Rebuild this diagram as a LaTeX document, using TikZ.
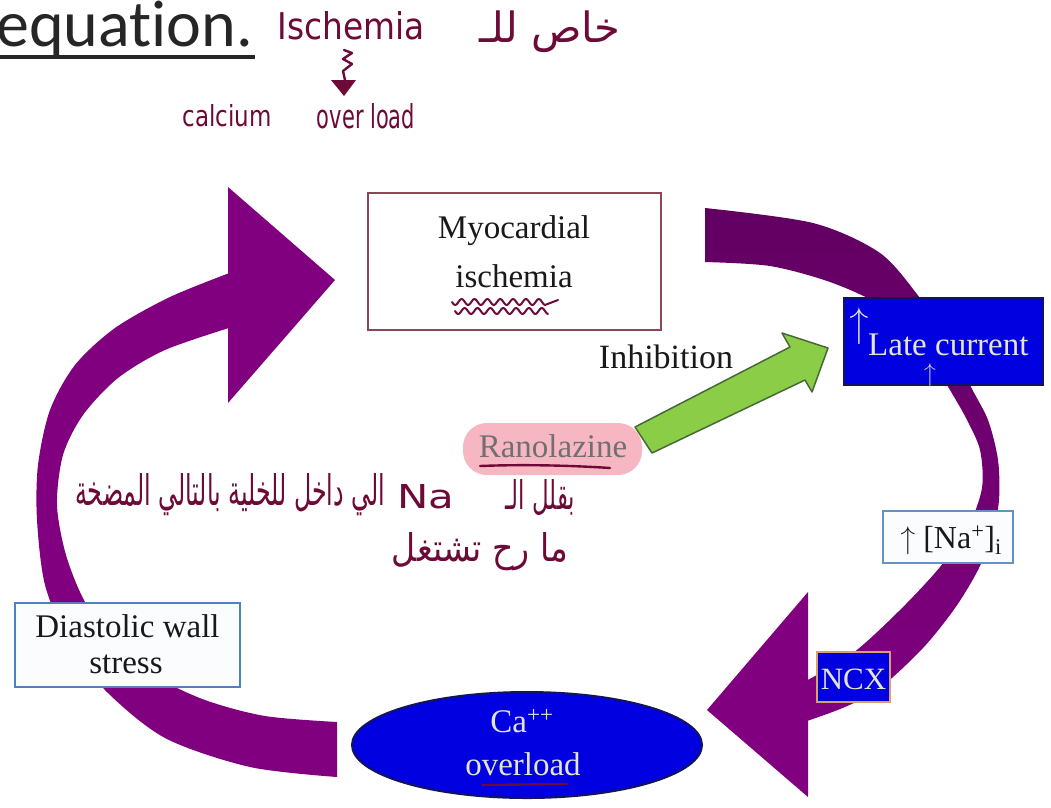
\documentclass[tikz,border=0pt]{standalone}
\usepackage{fontspec}
\usepackage{graphicx}
\usetikzlibrary{shapes.geometric}
\TeXXeTstate=1
\setmainfont{Liberation Serif}
\newfontfamily\lmr{Latin Modern Roman}
\newfontfamily\arabicfont[Script=Arabic]{DejaVu Sans}
\newfontfamily\hwfont{DejaVu Sans}
\newfontfamily\carlito[Ligatures=NoCommon]{Carlito}
\definecolor{purp}{RGB}{128,0,128}
\definecolor{purpdark}{RGB}{98,0,98}
\definecolor{hwc}{RGB}{110,10,55}
\definecolor{blueF}{RGB}{0,0,225}
\definecolor{cream}{RGB}{228,228,210}
\definecolor{greenF}{RGB}{140,205,72}
\definecolor{greenE}{RGB}{70,105,55}
\definecolor{pinkF}{RGB}{246,183,195}
\definecolor{ranoT}{RGB}{112,112,112}
\definecolor{myoE}{RGB}{140,70,85}
\definecolor{diaE}{RGB}{80,128,190}
\definecolor{naE}{RGB}{100,145,195}
\definecolor{ncxE}{RGB}{215,160,110}
\definecolor{ellE}{RGB}{20,20,90}
\definecolor{titleC}{RGB}{38,38,38}
\definecolor{boxF}{RGB}{250,252,254}
\definecolor{txtC}{RGB}{25,25,25}
\begin{document}
\begin{tikzpicture}[x=1pt,y=-1pt,
  txt/.style={font=\fontsize{33}{39}\selectfont, inner sep=0pt, text=txtC},
  hw/.style={text=hwc, inner sep=0pt, font=\hwfont},
  hwline/.style={draw=hwc, line width=2.4pt, line cap=round, line join=round},
  plainbox/.style={draw, rectangle, inner sep=0pt}]
\fill[white] (0,0) rectangle (1051,807);
\useasboundingbox (0,0) rectangle (1051,807);

% ---- left purple curved arrow
\fill[purp] plot[smooth] coordinates {(232,272) (170,297) (115,328) (75,365) (50,410) (38,465) (37,520) (45,585) (68,640) (105,690) (165,738) (250,767) (337,777)}
  -- plot[smooth] coordinates {(337,722) (265,716) (205,700) (155,676) (115,643) (85,602) (66,555) (57,505) (63,455) (83,415) (118,378) (165,350) (232,327)} -- cycle;
\fill[purp] (228,187) -- (335,280) -- (228,403) -- cycle;

% ---- right purple curved arrow
\shade[top color=purpdark, bottom color=purp] plot[smooth] coordinates {(705,208) (813,223) (880,253) (920,298) (950,340) (970,385) (988,420) (998,460) (999,500) (992,535) (978,570) (955,608) (923,648) (880,688) (845,707) (804,722)}
  -- plot[smooth] coordinates {(804,682) (853,653) (900,610) (940,567) (968,527) (982,488) (980,450) (966,418) (947,385) (920,340) (880,305) (830,282) (770,266) (705,262)} -- cycle;
\fill[purp] (808,592) -- (707,710) -- (808,797) -- cycle;

% ---- nodes
\node[plainbox, draw=myoE, line width=1.8pt, fill=white, minimum width=293pt, minimum height=137pt] (myo) at (514.5,261.5) {};
\node[txt, anchor=base] (myo1) at (514,238) {Myocardial};
\node[txt, anchor=base] (myo2) at (514,287) {ischemia};

\node[draw=ellE, line width=2pt, fill=blueF, ellipse, inner sep=0pt, minimum width=350pt, minimum height=106pt] (ca) at (527,745) {};
\node[txt, anchor=base, text=cream] (ca1) at (522,732) {Ca\textsuperscript{++}};
\node[txt, anchor=base, text=cream] (ca2) at (523,775) {overload};

\node[plainbox, draw=diaE, line width=2pt, fill=boxF, minimum width=225pt, minimum height=84pt] (dia) at (127.5,645) {};
\node[txt, anchor=base] (dia1) at (127.5,637) {Diastolic wall};
\node[txt, anchor=base] (dia2) at (126,673) {stress};

\node[plainbox, draw=ellE, line width=1.5pt, fill=blueF, minimum width=199pt, minimum height=87pt] (late) at (943.5,341.5) {};
\node[txt, anchor=base west, text=cream] (late1) at (868,355) {Late current};
\node[inner sep=0pt, text=cream, font=\lmr\fontsize{42}{42}\selectfont] (up1) at (859,326) {↑};
\node[inner sep=0pt, text=cream, font=\lmr\fontsize{26}{26}\selectfont] (up2) at (930,375) {↑};

\node[plainbox, draw=naE, line width=2pt, fill=boxF, minimum width=130pt, minimum height=52pt] (na) at (948,537) {};
\node[txt, anchor=base, font=\fontsize{32}{36}\selectfont] (na1) at (951,548) {{\lmr ↑} [Na\textsuperscript{+}]\textsubscript{i}};

\node[plainbox, draw=ncxE, line width=1.5pt, fill=blueF, minimum width=73pt, minimum height=50pt] (ncx) at (853.5,677) {};
\node[txt, anchor=base, text=cream, font=\fontsize{31}{36}\selectfont] (ncx1) at (853.5,689) {NCX};

% green inhibition arrow
\filldraw[fill=greenF, draw=greenE, line width=1.5pt, line join=round] (635,427) -- (790,347) -- (782,333) -- (828,348) -- (812,392) -- (805,380) -- (652,453) -- cycle;

\node[plainbox, draw=none, fill=pinkF, rounded corners=24pt, minimum width=179pt, minimum height=52pt] (rano) at (552.5,449) {};
\node[txt, anchor=base, text=ranoT] (rano1) at (553,457) {Ranolazine};
\node[txt, anchor=base, font=\fontsize{34}{39}\selectfont] (inh) at (666,368) {Inhibition};

% ---- title fragment
\node[anchor=base west, inner sep=0pt, text=titleC, font=\carlito\fontsize{66}{70}\selectfont] (title) at (-4,46) {equation.};
\draw[titleC, line width=3.5pt] (0,57) -- (255,57);

% ---- handwritten notes
\node[hw] (isch) at (351,26) {\resizebox{147pt}{28pt}{Ischemia}};
\node[hw] (khas) at (550,32) {\resizebox{141pt}{!}{\arabicfont\beginR خاص للـ\endR}};
\node[hw] (calc) at (227,116) {\resizebox{89pt}{22pt}{calcium}};
\node[hw] (over) at (366,116) {\resizebox{98pt}{25pt}{over load}};
\coordinate (sq) at (344,50);
\draw[hwline] (sq) -- ++(8,3) -- ++(-9,6) -- ++(9,5) -- ++(-9,7) -- ++(2,9);
\fill[hwc] (331,80) -- (356,80) -- (344,96) -- cycle;

\node[hw] (ar1) at (540,497) {\resizebox{70pt}{30pt}{\arabicfont\beginR بقلل الـ\endR}};
\node[hw] (arna) at (426,497) {\resizebox{57pt}{24pt}{Na}};
\node[hw] (ar2) at (230,495) {\resizebox{310pt}{32pt}{\arabicfont\beginR الي داخل للخلية بالتالي المضخة\endR}};
\node[hw] (ar3) at (480,552) {\resizebox{176pt}{29pt}{\arabicfont\beginR ما رح تشتغل\endR}};

% underlines
\draw[hwline, line width=2pt] plot[domain=452:545, samples=80] (\x, {302+3*sin((\x-452)*28)}) -- (558,300);
\draw[hwline, line width=2pt] plot[domain=455:548, samples=80] (\x, {311+3*sin((\x-455)*28)});
\draw[hwline] (480,466) .. controls (530,464) and (580,466) .. (610,468);
\draw[hwline] (482,785) -- (567,784);
\end{tikzpicture}
\end{document}
